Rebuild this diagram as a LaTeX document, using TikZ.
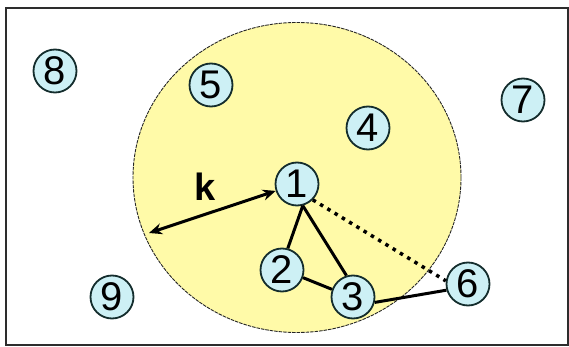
\documentclass[tikz,border=0pt]{standalone}
\usepackage{fontspec}
\setmainfont{Liberation Sans}
\usetikzlibrary{arrows.meta}
\definecolor{zonefill}{RGB}{255,250,168}
\definecolor{nodefill}{RGB}{205,240,245}
\definecolor{nodeline}{RGB}{20,45,45}
\definecolor{framecol}{RGB}{45,45,45}
\tikzset{
  sensor/.style={circle, draw=nodeline, line width=1.8pt, fill=nodefill,
    minimum size=43pt, inner sep=0pt, font=\fontsize{40}{40}\selectfont},
  link/.style={line width=3pt, black},
  weaklink/.style={line width=3.5pt, black, dash pattern=on 3.5pt off 5pt},
  radius arrow/.style={line width=3pt, black, {Stealth[length=13pt,width=11pt]}-{Stealth[length=13pt,width=11pt]}},
  klabel/.style={font=\fontsize{38}{38}\selectfont\bfseries, inner sep=0pt}
}
\begin{document}
\begin{tikzpicture}[x=1pt,y=-1pt]
\useasboundingbox (0,0) rectangle (569,347);
\draw[line width=2pt, framecol] (6,8) rectangle (568,345);
\draw[fill=zonefill, draw=black!85, line width=0.9pt, dash pattern=on 3.5pt off 1pt]
  (297,177.5) ellipse [x radius=164pt, y radius=155pt];
\node[sensor] (n8) at (55,71) {8};
\node[sensor] (n5) at (211,85) {5};
\node[sensor] (n4) at (368,128) {4};
\node[sensor] (n7) at (523,100) {7};
\node[sensor] (n1) at (297,184) {1};
\node[sensor] (n2) at (282,270) {2};
\node[sensor] (n3) at (353,297) {3};
\node[sensor] (n6) at (468,284) {6};
\node[sensor] (n9) at (112,297) {9};
\coordinate (edge) at (149,233);
\node[klabel] (k) at (205,187) {k};
\draw[radius arrow] (edge) -- (n1.198);
\draw[link] (n1.-75) -- (n2.75);
\draw[link] (n1.-75) -- (n3.107);
\draw[link] (n2.-20) -- (n3.160);
\draw[link] (n3.-14) -- (n6.196);
\draw[weaklink] (n1.-45) -- (n6.172);
\end{tikzpicture}
\end{document}
